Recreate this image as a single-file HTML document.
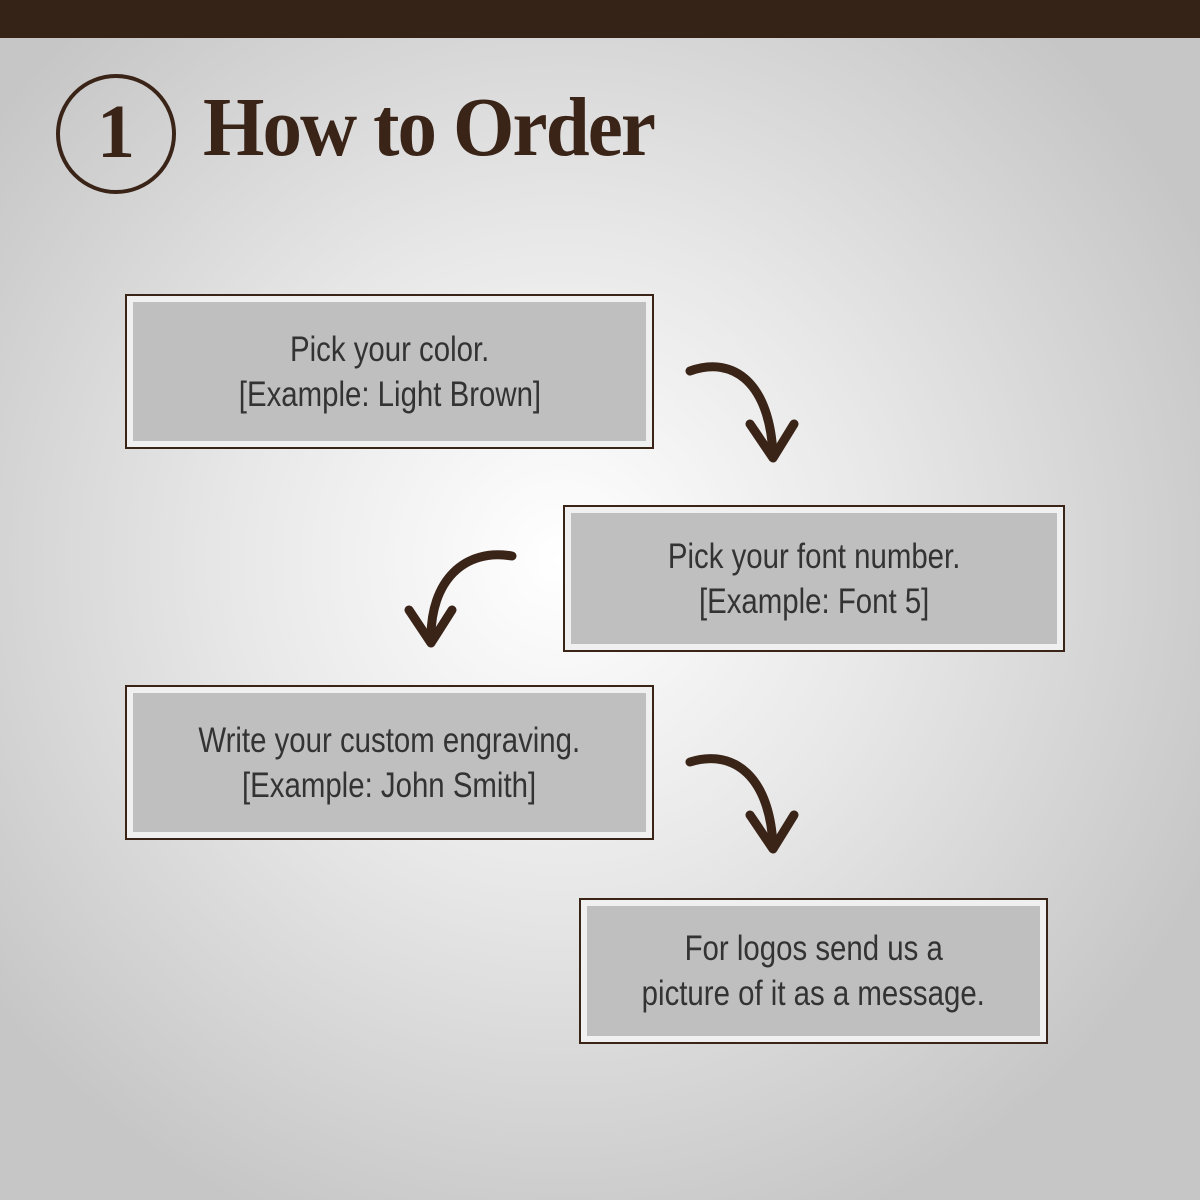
<!DOCTYPE html>
<html><head><meta charset="utf-8"><style>
html,body{margin:0;padding:0}
body{width:1200px;height:1200px;position:relative;overflow:hidden;
background:radial-gradient(ellipse 720px 720px at 560px 560px,#ffffff 0%,#e8e8e8 45%,#c6c6c6 100%);}
.bar{position:absolute;left:0;top:0;width:1200px;height:38px;background:#352317}
.title{position:absolute;left:203px;top:78px;font-family:"Liberation Serif",serif;font-weight:bold;font-size:84px;color:#3a2418;letter-spacing:-2px;line-height:100px;transform:scaleX(0.94);transform-origin:left}
.num{position:absolute;left:56px;top:74px;width:112px;height:112px;border:4px solid #3a2418;border-radius:50%;font-family:"Liberation Serif",serif;font-weight:bold;font-size:76px;color:#3a2418;text-align:center;line-height:108px}
.box{position:absolute;border:2px solid #3a2418;background:#f0f0f0;box-sizing:border-box}
.inner{position:absolute;left:6px;right:6px;top:6px;bottom:6px;background:#bfbfbf;display:flex;align-items:center;justify-content:center;flex-direction:column}
.inner span{display:block;font-family:"Liberation Sans",sans-serif;font-size:35px;line-height:45px;color:#333;transform:scaleX(0.84);white-space:nowrap}
</style></head><body>
<div class="bar"></div>
<div class="num">1</div>
<div class="title">How to Order</div>

<div class="box" style="left:125px;top:294px;width:529px;height:155px"><div class="inner"><span>Pick your color.</span><span>[Example: Light Brown]</span></div></div>
<div class="box" style="left:563px;top:505px;width:502px;height:147px"><div class="inner"><span>Pick your font number.</span><span>[Example: Font 5]</span></div></div>
<div class="box" style="left:125px;top:685px;width:529px;height:155px"><div class="inner"><span>Write your custom engraving.</span><span>[Example: John Smith]</span></div></div>
<div class="box" style="left:579px;top:898px;width:469px;height:146px"><div class="inner"><span>For logos send us a</span><span>picture of it as a message.</span></div></div>

<svg width="1200" height="1200" style="position:absolute;left:0;top:0" fill="none" stroke="#3a2418" stroke-width="9" stroke-linecap="round" stroke-linejoin="round">
<path d="M690 371 C735 355 770 385 773 455"/>
<path d="M750 424 L773 458 L794 424"/>
<path d="M512 556 C465 548 430 580 431 640"/>
<path d="M409 610 L431 643 L452 610"/>
<path d="M690 762 C735 748 770 778 773 846"/>
<path d="M750 815 L773 849 L794 815"/>
</svg>
</body></html>
